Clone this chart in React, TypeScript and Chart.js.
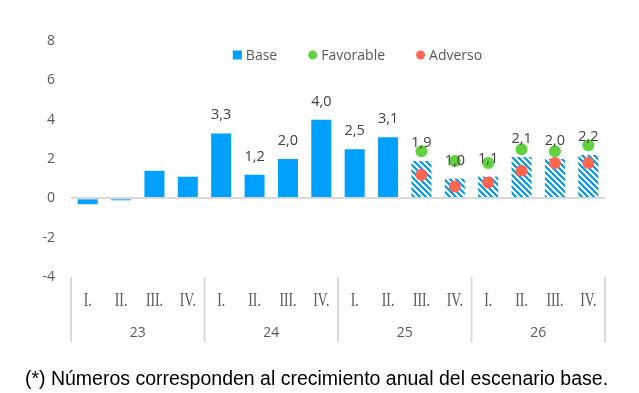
import React, { useEffect, useRef } from "react";
import { Chart, registerables } from "chart.js";

Chart.register(...registerables);

// ---------- data ----------
const quarters = ["I.", "II.", "III.", "IV.", "I.", "II.", "III.", "IV.", "I.", "II.", "III.", "IV.", "I.", "II.", "III.", "IV."];
const years = ["23", "24", "25", "26"];
const baseValues = [-0.3, -0.1, 1.4, 1.1, 3.3, 1.2, 2.0, 4.0, 2.5, 3.1, 1.9, 1.0, 1.1, 2.1, 2.0, 2.2];
const favorableValues = [null, null, null, null, null, null, null, null, null, null, 2.4, 1.9, 1.8, 2.5, 2.4, 2.7];
const adversoValues = [null, null, null, null, null, null, null, null, null, null, 1.2, 0.6, 0.8, 1.4, 1.8, 1.8];
const yTicks = [-4, -2, 0, 2, 4, 6, 8];
const forecastStart = 10; // first hatched (forecast) bar
const labeledFrom = 4; // first bar with a value label
const seriesNames = ["Base", "Favorable", "Adverso"];
const footnote = "(*) Números corresponden al crecimiento anual del escenario base.";

const BLUE = "#00A0FF";
const GREEN = "#62D13F";
const RED = "#FF6650";
const TEXT = "#595959";
const FONT = '"Open Sans", sans-serif';

const fmt = (v: number) => v.toFixed(1).replace(".", ",");

function makePattern(ctx: CanvasRenderingContext2D) {
  const c = document.createElement("canvas");
  const p = 6;
  c.width = p;
  c.height = p;
  const pc = c.getContext("2d")!;
  pc.fillStyle = "#ffffff";
  pc.fillRect(0, 0, p, p);
  pc.fillStyle = BLUE;
  for (let x = 0; x < p; x++) {
    for (let y = 0; y < p; y++) {
      if ((((x - y) % p) + p) % p < 3) pc.fillRect(x, y, 1, 1);
    }
  }
  return ctx.createPattern(c, "repeat")!;
}

const groupAxisPlugin = {
  id: "groupAxis",
  afterDraw(chart: any) {
    const { ctx, chartArea } = chart;
    const x = chart.scales.x;
    const n = quarters.length;
    const half = (x.getPixelForValue(1) - x.getPixelForValue(0)) / 2;
    const top = chartArea.bottom;
    ctx.save();
    ctx.strokeStyle = "#d9d9d9";
    ctx.lineWidth = 2;
    for (let g = 0; g <= years.length; g++) {
      const idx = g * 4;
      const px = idx < n ? x.getPixelForValue(idx) - half : x.getPixelForValue(n - 1) + half;
      ctx.beginPath();
      ctx.moveTo(px, top);
      ctx.lineTo(px, top + 65);
      ctx.stroke();
    }
    ctx.fillStyle = TEXT;
    ctx.textAlign = "center";
    ctx.textBaseline = "middle";
    ctx.font = '19px "Liberation Serif", serif';
    quarters.forEach((q, i) => {
      ctx.save();
      ctx.translate(x.getPixelForValue(i), top + 24);
      ctx.scale(0.72, 1);
      ctx.fillText(q, 0, 0);
      ctx.restore();
    });
    ctx.font = "14px " + FONT;
    years.forEach((yr, g) => {
      const px = (x.getPixelForValue(g * 4) + x.getPixelForValue(g * 4 + 3)) / 2;
      ctx.fillText(yr, px, top + 56);
    });
    ctx.restore();
  },
};

const valueLabelPlugin = {
  id: "valueLabels",
  afterDatasetsDraw(chart: any) {
    const { ctx } = chart;
    const meta = chart.getDatasetMeta(0);
    ctx.save();
    ctx.fillStyle = "#404040";
    ctx.font = "14.5px " + FONT;
    ctx.textAlign = "center";
    ctx.textBaseline = "alphabetic";
    meta.data.forEach((bar: any, i: number) => {
      if (i < labeledFrom) return;
      ctx.fillText(fmt(baseValues[i]), bar.x, bar.y - 14);
    });
    ctx.restore();
  },
};

const customLegendPlugin = {
  id: "customLegend",
  afterDraw(chart: any, _args: any, opts: any) {
    const { ctx } = chart;
    const ds = chart.data.datasets;
    ctx.save();
    ctx.font = "14px " + FONT;
    const box = 9;
    const gapText = 4;
    const gapItem = 31;
    const widths = ds.map((d: any) => box + gapText + ctx.measureText(d.label).width);
    const total = widths.reduce((a: number, b: number) => a + b, 0) + gapItem * (ds.length - 1);
    let x = opts.centerX - total / 2;
    const cy = opts.centerY;
    ds.forEach((d: any, i: number) => {
      ctx.fillStyle = d.legendColor;
      if (d.legendShape === "rect") {
        ctx.fillRect(x, cy - box / 2, box, box);
      } else {
        ctx.beginPath();
        ctx.arc(x + box / 2, cy, box / 2, 0, Math.PI * 2);
        ctx.fill();
      }
      ctx.fillStyle = TEXT;
      ctx.textAlign = "left";
      ctx.textBaseline = "alphabetic";
      ctx.fillText(d.label, x + box + gapText, cy + 5);
      x += widths[i] + gapItem;
    });
    ctx.restore();
  },
};

export default function App() {
  const ref = useRef<HTMLCanvasElement | null>(null);

  useEffect(() => {
    const canvas = ref.current!;
    const ctx = canvas.getContext("2d")!;
    const pattern = makePattern(ctx);
    const chart = new Chart(ctx, {
      type: "bar",
      data: {
        labels: quarters,
        datasets: [
          {
            type: "bar",
            label: seriesNames[0],
            data: baseValues,
            backgroundColor: baseValues.map((_, i) => (i >= forecastStart ? pattern : BLUE)),
            borderWidth: 0,
            categoryPercentage: 1,
            barPercentage: 0.6,
            order: 3,
            legendColor: BLUE,
            legendShape: "rect",
          } as any,
          {
            type: "line",
            label: seriesNames[1],
            data: favorableValues,
            showLine: false,
            pointRadius: 6,
            pointHoverRadius: 6,
            pointBorderWidth: 0,
            pointBackgroundColor: GREEN,
            backgroundColor: GREEN,
            borderColor: GREEN,
            order: 2,
            legendColor: GREEN,
            legendShape: "circle",
          } as any,
          {
            type: "line",
            label: seriesNames[2],
            data: adversoValues,
            showLine: false,
            pointRadius: 6,
            pointHoverRadius: 6,
            pointBorderWidth: 0,
            pointBackgroundColor: RED,
            backgroundColor: RED,
            borderColor: RED,
            order: 1,
            legendColor: RED,
            legendShape: "circle",
          } as any,
        ],
      },
      options: {
        animation: false,
        responsive: false,
        events: [],
        layout: { padding: { top: 41, bottom: 116, left: 0, right: 34 } },
        plugins: {
          legend: { display: false },
          tooltip: { enabled: false },
          customLegend: { centerX: 357.5, centerY: 55 },
        } as any,
        scales: {
          x: { display: false, offset: true },
          y: {
            min: yTicks[0],
            max: yTicks[yTicks.length - 1],
            afterFit: (s: any) => {
              s.width = 71;
            },
            afterBuildTicks: (s: any) => {
              s.ticks = yTicks.map((v) => ({ value: v }));
            },
            ticks: {
              padding: 16,
              color: TEXT,
              font: { family: FONT, size: 14 },
            },
            grid: {
              drawTicks: false,
              lineWidth: 2,
              z: 1,
              color: (c: any) => (c.tick && c.tick.value === 0 ? "#d9d9d9" : "rgba(0,0,0,0)"),
            },
            border: { display: false },
          } as any,
        },
      },
      plugins: [groupAxisPlugin, valueLabelPlugin, customLegendPlugin],
    });
    return () => chart.destroy();
  }, []);

  return (
    <div style={{ position: "absolute", left: 0, top: 0, width: 639, height: 393, background: "#fff" }}>
      <canvas ref={ref} width={639} height={393} style={{ display: "block" }} />
      <div
        style={{
          position: "absolute",
          left: -3,
          top: 367,
          width: 639,
          textAlign: "center",
          fontFamily: '"Liberation Sans", Arial, sans-serif',
          fontSize: 19.5,
          lineHeight: "22px",
          color: "#000",
          whiteSpace: "nowrap",
        }}
      >
        {footnote}
      </div>
    </div>
  );
}
